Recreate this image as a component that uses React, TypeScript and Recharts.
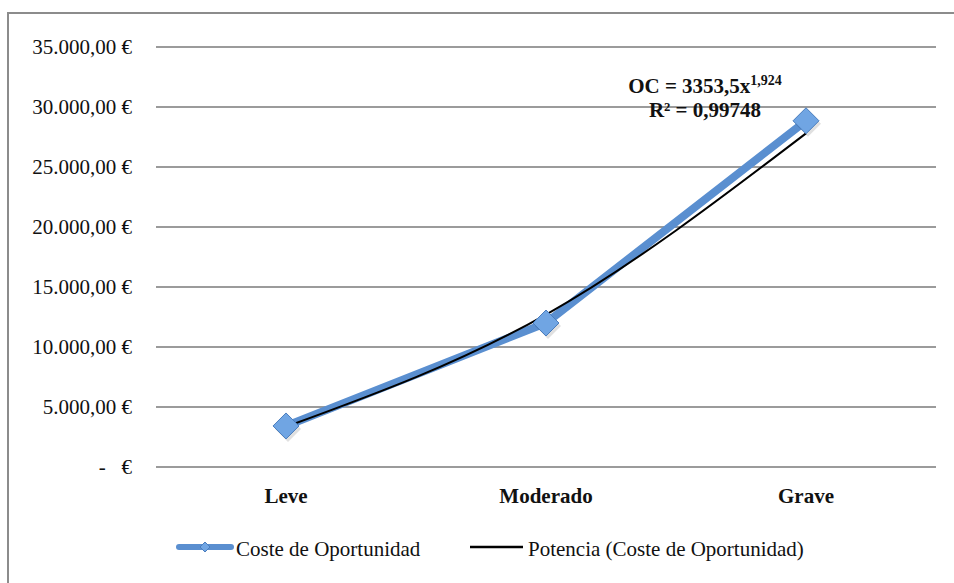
import React from 'react';
import { LineChart, Line, XAxis, YAxis, CartesianGrid, LabelList } from 'recharts';

// Severity categories and the two series drawn over them
const categories = ['Leve', 'Moderado', 'Grave'];
const costeOportunidad = [3420, 12000, 28850];
const potenciaTendencia = [3350, 12700, 27800];
const yTicks = [0, 5000, 10000, 15000, 20000, 25000, 30000, 35000];

const SERIES_MAIN = 'Coste de Oportunidad';
const SERIES_TREND = 'Potencia (Coste de Oportunidad)';
const EQ_LINE_1 = 'OC = 3353,5x';
const EQ_EXP = '1,924';
const EQ_LINE_2 = 'R² = 0,99748';

const data = categories.map((c, i) => ({
  cat: c,
  coste: costeOportunidad[i],
  trend: potenciaTendencia[i],
}));

const FONT = "'Liberation Serif', 'DejaVu Serif', serif";
const BLUE = '#5a8fd0';
const DIAMOND_FILL = '#70a5e3';
const DIAMOND_STROKE = '#4a7dbd';

const formatEuro = (v: number) => {
  if (v === 0) return '-\u00a0\u00a0\u00a0€';
  const s = Math.round(v).toString().replace(/\B(?=(\d{3})+(?!\d))/g, '.');
  return `${s},00 €`;
};

const Diamond = (props: any) => {
  const { cx, cy, index } = props;
  if (cx == null || cy == null) return null;
  const r = 13;
  const pts = (dx: number, dy: number) =>
    `${cx + dx},${cy - r + dy} ${cx + r + dx},${cy + dy} ${cx + dx},${cy + r + dy} ${cx - r + dx},${cy + dy}`;
  return (
    <g key={`d-${index}`}>
      <polygon points={pts(2, 3)} fill="#000" opacity={0.12} />
      <polygon points={pts(0, 0)} fill={DIAMOND_FILL} stroke={DIAMOND_STROKE} strokeWidth={1} />
    </g>
  );
};

const EquationLabel = (props: any) => {
  const { x, y, index } = props;
  if (index !== categories.length - 1) return null;
  const cx = x - 101;
  return (
    <g style={{ fontFamily: FONT }} fontWeight="bold" fill="#111">
      <text x={cx} y={y - 40} textAnchor="middle" fontSize={21} style={{ fontFamily: FONT }}>
        {EQ_LINE_1}
        <tspan fontSize={14} dy={-8}>{EQ_EXP}</tspan>
      </text>
      <text x={cx} y={y - 16} textAnchor="middle" fontSize={21} style={{ fontFamily: FONT }}>
        {EQ_LINE_2}
      </text>
    </g>
  );
};

const LegendBox = () => (
  <svg width={954} height={30} style={{ position: 'absolute', left: 0, top: 532 }}>
    <line x1={179} y1={15} x2={231} y2={15} stroke={BLUE} strokeWidth={6} strokeLinecap="round" />
    <polygon points="205,10 210,15 205,20 200,15" fill={DIAMOND_FILL} stroke={DIAMOND_STROKE} strokeWidth={1} />
    <text x={236} y={24} style={{ fontFamily: FONT }} fontSize={21} fill="#111">{SERIES_MAIN}</text>
    <line x1={470} y1={15} x2={523} y2={15} stroke="#000" strokeWidth={2.5} />
    <text x={528} y={24} style={{ fontFamily: FONT }} fontSize={21} fill="#111">{SERIES_TREND}</text>
  </svg>
);

export default function App() {
  return (
    <div
      style={{
        position: 'fixed',
        left: 0,
        top: 0,
        width: 954,
        height: 583,
        overflow: 'hidden',
        background: '#fff',
        fontFamily: FONT,
      }}
    >
      <div
        style={{
          position: 'absolute',
          left: 7,
          top: 12,
          width: 980,
          height: 620,
          borderLeft: '2px solid #8c8c8c',
          borderTop: '2px solid #8c8c8c',
        }}
      />
      <div style={{ position: 'absolute', left: 0, top: 0 }}>
        <LineChart
          width={954}
          height={583}
          data={data}
          margin={{ top: 47, right: 18, bottom: 86, left: 0 }}
          style={{ fontFamily: FONT }}
        >
          <CartesianGrid vertical={false} stroke="#9b9b9b" strokeWidth={2} />
          <XAxis
            dataKey="cat"
            axisLine={false}
            tickLine={false}
            padding={{ left: 130, right: 130 }}
            height={30}
            tickMargin={15}
            tick={{ style: { fontFamily: FONT }, fontSize: 21, fontWeight: 'bold', fill: '#111' }}
          />
          <YAxis
            domain={[0, 35000]}
            ticks={yTicks}
            width={156}
            axisLine={false}
            tickLine={false}
            tickMargin={18}
            tickFormatter={formatEuro}
            tick={{ style: { fontFamily: FONT }, fontSize: 21, fill: '#111' }}
            interval={0}
          />
          <Line
            dataKey="coste"
            name={SERIES_MAIN}
            stroke={BLUE}
            strokeWidth={8}
            type="linear"
            dot={<Diamond />}
            activeDot={false}
            isAnimationActive={false}
          />
          <Line
            dataKey="trend"
            name={SERIES_TREND}
            stroke="#000"
            strokeWidth={2}
            type="natural"
            dot={false}
            activeDot={false}
            isAnimationActive={false}
          >
            <LabelList dataKey="trend" content={<EquationLabel />} />
          </Line>
        </LineChart>
      </div>
      <LegendBox />
    </div>
  );
}
